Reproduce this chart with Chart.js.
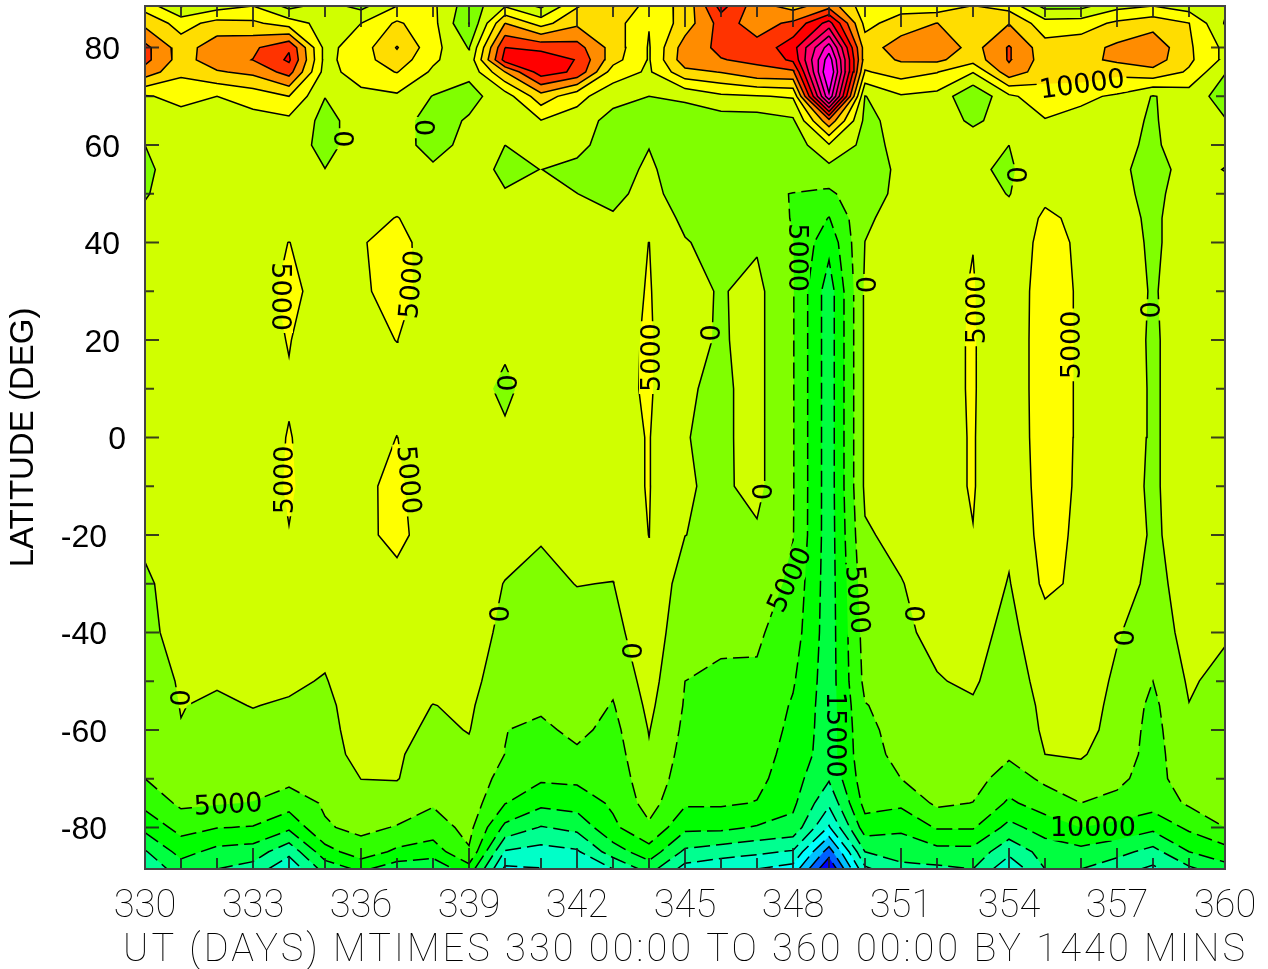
<!DOCTYPE html>
<html>
<head>
<meta charset="utf-8">
<title>Latitude vs UT contour</title>
<script src="https://cdn.jsdelivr.net/npm/chart.js@4/dist/chart.umd.min.js"></script>
<style>
  html, body { margin: 0; background: #fff; }
  canvas { display: block; }
</style>
</head>
<body>
<canvas id="contourChart" width="1268" height="969"></canvas>
<script>
const days = [330,331,332,333,334,335,336,337,338,339,340,341,342,343,344,345,346,347,348,349,350,351,352,353,354,355,356,357,358,359,360];
const lats = [88.54,85,80,77.5,75,70,65,60,55,50,45,40,30,20,10,0,-10,-20,-30,-40,-50,-55,-60,-65,-70,-75,-80,-85,-88.54];

// values in thousands, one row per day, top latitude first
const wind = [
  [8,13.6,21.5,21.5,18,4.5,2,0,-.8,-.3,.8,2,3,3,3,3,2.5,1,-.8,-1.3,-1.5,-1.8,-2,-2.5,-5,-8.5,-13.5,-20.5,-24],
  [-.3,8,12.5,12.8,11,6.5,3,2,2,2,2,2.5,3,3,3,3,3,2.5,2.2,1.8,.3,.1,-.1,-.5,-2,-4,-8.2,-13.2,-17.5],
  [3,11.7,18,18,14.5,5,3,2,2,2,2.5,3,3.2,3.2,3.2,3.2,3.2,3,2.7,2,.3,-.5,-1,-1.5,-2.5,-4.6,-9.8,-16.5,-20],
  [5,11,19,20.1,16.2,7,3.2,2,2,2.5,3,3.5,4,4,4,4,4,3.8,3,2,1,.1,-.8,-1.3,-2.5,-5.2,-10.3,-17.3,-22],
  [-1.5,7.5,24.5,25.8,22,10,3.8,2,2,2.5,3.5,5.05,5.5,5.1,4.8,5.1,5.2,4.95,3,1.8,.7,-.4,-1,-1.8,-3.5,-7.8,-13.9,-23.5,-29],
  [2,3,3.5,3.5,3,.1,-1.5,-1.2,.05,2,2.8,3.5,4.2,3.6,3.3,4,4.1,3.5,2.5,1.5,-.3,-1.2,-1.5,-2,-3.5,-4.4,-5.5,-12,-18],
  [-1.5,5,7.5,8,7.5,3.5,2.2,1.8,2,2.5,3.5,4.8,4.5,4.2,3.5,3.5,4.3,3.8,3.5,3,3,2.6,2,1.5,.05,-1.9,-3.8,-7.2,-14],
  [5,10.8,15.3,13,10.2,4.2,2,2,2,3,5.15,6,6.2,5.05,4,5.05,5.8,6.3,3.5,3,3,2,1.4,.5,.2,-2.2,-5.3,-11,-18],
  [6,6.5,6.8,5.8,4.2,-.2,-2,-1.8,.8,2,3,3.6,3.5,3,2.8,3,2.2,2.5,2.5,2.5,1.5,-.1,-1,-1.8,-2.8,-4.5,-7.3,-12.5,-19],
  [-3,-5.1,-.3,1.5,1,-1.5,.5,1.5,2.2,2.5,3,3,3,3,2,2.5,2.5,3,3,2,1.1,.7,.2,-1,-1.5,-2.2,-3.5,-5.5,-12],
  [4.5,15,25,27,15,2.5,2,0,-1,.3,2,2.5,3,1,-1,.8,2,2.5,-.2,-1,-2,-3.5,-4.9,-5.05,-7,-9.8,-16.2,-25.5,-31],
  [-1,8,23.5,28.5,27.5,13,4.8,2,.05,.1,2,3,3,3,2.5,3,3,.3,-1,-1.2,-1.5,-4.2,-6,-7.5,-9.3,-13.7,-20.3,-26.9,-30.2],
  [9.5,14,22,24.7,24,6.5,3,1.7,-1.5,.05,2,3,3,3,3,3,3,1.5,.1,-1.5,-1.5,-2.5,-3.8,-5.8,-9,-12.8,-18.6,-25.7,-29],
  [15.1,12.5,13,12,7.5,2,-2,-3,-2.5,-1.5,.6,2,3,3.5,3.5,3.5,3.5,2,-.1,-1.8,-4,-5.3,-6.5,-7.5,-8.3,-9.2,-11,-17.5,-25],
  [8,5.2,4.6,4.6,4.3,0,-3,-.2,1,2,3,5.05,5.3,5.5,5.6,5.2,5.2,5.05,4,3.6,2,1.1,.2,-.5,-1.7,-3,-5.8,-12,-18],
  [11,12.3,17.5,18,13.5,1,-3,-4,-3.5,-3,-1,.3,1.2,1.2,.4,.12,.34,.05,-2.25,-4,-5,-5.4,-6,-6.8,-7.6,-9.3,-13.8,-21,-27],
  [27,22,21,19.8,15.2,4,-2.5,-4,-4,-3.5,-2.5,-1.5,-.3,-.4,-.7,-.7,-.7,-1,-2,-4.3,-5.6,-6,-6.5,-7.2,-8,-9.3,-13.8,-22.6,-28.8],
  [17,18,21.5,21,18.5,4.7,-2.5,-4,-4.5,-4.3,-3,-.5,1.2,1.3,1.3,1.3,1.2,-.6,-1.8,-4.3,-5.7,-6.5,-7,-7.7,-8.6,-10.2,-15.4,-24,-30],
  [13,21,28,26,19,5.5,-.8,-3,-3,-5.1,-5.2,-4.9,-4.7,-4.7,-4.7,-4.7,-4.7,-4.8,-6.3,-7.5,-9.5,-10.5,-11.2,-12,-13,-14,-16.5,-25.5,-32],
  [18,32,47.5,53,56,49,18.5,4.5,-1.5,-6,-10.2,-13.5,-17.7,-17.7,-17.7,-17.7,-17.7,-17.7,-17.7,-17.7,-17.7,-17.7,-17.6,-17.5,-19.5,-24,-30.5,-42.5,-50],
  [7,8.5,12.5,12.6,9.5,-.2,-1.3,-1.5,-1.5,-1.2,-.8,.05,.8,.8,.8,.8,.8,-.5,-2,-3,-3.8,-5.2,-6,-6.5,-7,-8.3,-12.2,-20,-26],
  [8,12.3,17.5,15.5,12.2,4.5,1.8,1.2,.6,.7,2,1.5,1.5,1.5,1.5,1.5,1.5,1.2,-.2,-.6,-2.5,-3.3,-3.5,-3.9,-5,-9,-13.9,-18.5,-21],
  [7,15.1,19,16,10.2,3.5,1.5,1.5,1.5,2,2.5,3.5,3.5,3.5,3.5,3.5,3.5,3.5,2,.8,-.2,-1.5,-1.5,-2,-2.5,-4,-9.5,-16.7,-21],
  [10.2,11,13,12,5.2,-4.5,-.5,1.5,.6,2,3,4.9,5.3,5.4,5.4,5.3,5.3,4.9,3.5,1.5,.5,-.4,-1.5,-2,-3,-5.1,-9.5,-16.6,-20],
  [8,14.8,20.5,20.5,18.2,4,1.2,0,-.6,-.2,1.5,1,1,1,1,1,1,1,-.3,-1.2,-2.2,-2.8,-3.2,-4.2,-7.4,-10.8,-16.6,-23.6,-29],
  [-1.5,7,12,12.5,12,7.9,4.7,3,2.9,4,5.8,7,8,8.2,8.2,8,7.5,6.8,6,2.8,1.6,1,.65,0,-4,-7.7,-12.6,-18,-20],
  [-1.5,7.5,13,13.5,13,6,3.5,3.8,3.8,3.9,4,4.1,4.15,4.15,4.15,4.15,4.15,4,4,4,3,2.5,2,.5,-2,-5,-10,-16.5,-20],
  [3.5,11,16,16,11.5,4.3,1.2,.9,.6,.8,1,1.2,1.2,1.2,1.5,1.3,.9,1.5,1.8,.4,-.9,-1.5,-2,-2.5,-4.2,-5.9,-11.5,-18.4,-23],
  [5,13,18.5,17.5,13.5,-.3,-.4,-.6,-1,-.8,-.5,-.4,-.2,-.3,-.3,-.3,-.3,-.3,-1,-2.5,-5,-6.1,-6.5,-6.7,-6.5,-7.8,-13.7,-21.7,-26],
  [2.5,10.1,10.8,11,9.3,2.5,2.2,2,1,1.5,1.5,1.2,1.2,1.2,1.2,1.2,1.2,.9,1.4,1.6,.6,-.1,-1,-1.8,-2.8,-4.3,-9,-15,-21],
  [1,-.4,3.8,3.8,.2,-2,.3,1,-.1,1,1.5,1.5,1.5,1.5,1.5,1.5,1.5,1.5,1.2,.6,-1.5,-2,-2.4,-2.8,-3.2,-4,-5,-12,-17]
];

const levels = [-45,-40,-35,-30,-25,-20,-15,-10,-5,0,5,10,15,20,25,30,35,40,45,50];
// bandColors[0] is below the first level, bandColors[i+1] is above levels[i]
const bandColors = ['#0000ff','#0060ff','#00c0ff','#00ffff','#00ffc8','#00ff90','#00ff40','#00ff00','#30ff00','#80ff00',
  '#d0ff00','#ffff00','#ffdd00','#ff8c00','#ff3300','#ff0000','#ff0040','#ff0070','#ff00a0','#ff00d0','#ff00ff'];

const dayTicks = [330,333,336,339,342,345,348,351,354,357,360];
const latTicks = [-80,-60,-40,-20,0,20,40,60,80];

// contour labels: [day, lat, text, rotation in degrees]
const contourLabels = [
  [356.03,72.4,'10000',-8],[335.47,61.3,'0',90],[337.72,63.6,'0',90],[333.75,28.9,'5000',90],
  [337.42,31.4,'5000',-85],[333.89,-8.7,'5000',-90],[337.31,-8.7,'5000',85],[344.08,16.4,'5000',-90],
  [345.64,21.5,'0',90],[340,11.2,'0',90],[347.08,-11.1,'0',90],[353.11,26.2,'5000',-90],
  [355.75,19,'5000',-90],[349.97,31.4,'0',90],[357.86,26.2,'0',90],[354.17,53.9,'0',90],
  [330.92,-53.4,'0',90],[339.78,-36.2,'0',90],[343.47,-43.8,'0',90],[351.33,-36.2,'0',90],
  [357.14,-41.1,'0',90],[348.11,36.9,'5000',90],[347.92,-29.2,'5000',-65],[349.78,-33.3,'5000',85],
  [349.17,-61,'15000',90],[332.31,-75.4,'5000',-3],[356.33,-80.1,'10000',0]
];

function edgePoint(level, a, b) {
  const va = wind[a[0]][a[1]], vb = wind[b[0]][b[1]];
  const t = (level - va) / (vb - va);
  return {
    x: days[a[0]] + t * (days[b[0]] - days[a[0]]),
    y: lats[a[1]] + t * (lats[b[1]] - lats[a[1]])
  };
}

// walk every grid cell and hand back its corners and which are above the level
function forEachCell(level, cb) {
  for (let i = 0; i < days.length - 1; i++) {
    for (let j = 0; j < lats.length - 1; j++) {
      const c = [[i, j], [i + 1, j], [i + 1, j + 1], [i, j + 1]];
      const vals = c.map(p => wind[p[0]][p[1]]);
      const up = vals.map(v => v >= level);
      const n = up.filter(Boolean).length;
      if (n === 0) continue;
      const centerUp = vals.reduce((s, v) => s + v, 0) / 4 >= level;
      cb(c, up, n, centerUp);
    }
  }
}

// contour line of one level as chained {x,y} points, NaN point between chains
function contourLine(level) {
  const nodes = new Map();
  const node = (a, b) => {
    const k = a[0] + ',' + a[1] + '|' + b[0] + ',' + b[1];
    const r = b[0] + ',' + b[1] + '|' + a[0] + ',' + a[1];
    const key = nodes.has(r) ? r : k;
    if (!nodes.has(key)) nodes.set(key, { pt: edgePoint(level, a, b), next: [], used: false });
    return nodes.get(key);
  };
  forEachCell(level, (c, up, n, centerUp) => {
    if (n === 4) return;
    const cross = [];
    for (let k = 0; k < 4; k++) {
      if (up[k] !== up[(k + 1) % 4]) cross.push(node(c[k], c[(k + 1) % 4]));
    }
    const link = (a, b) => { a.next.push(b); b.next.push(a); };
    if (cross.length === 2) {
      link(cross[0], cross[1]);
    } else if (up[0] === centerUp) {
      link(cross[0], cross[1]); link(cross[2], cross[3]);
    } else {
      link(cross[3], cross[0]); link(cross[1], cross[2]);
    }
  });
  const out = [];
  const walk = start => {
    let cur = start, last = null;
    while (cur) {
      cur.used = true;
      out.push(cur.pt);
      last = cur;
      cur = cur.next.find(m => !m.used);
    }
    if (last !== start && last.next.includes(start) && out.length > 2) out.push(start.pt);
    out.push({ x: NaN, y: NaN });
  };
  nodes.forEach(m => { if (m.next.length === 1 && !m.used) walk(m); });
  nodes.forEach(m => { if (!m.used) walk(m); });
  return out;
}

// colour bands go on their own canvas, so label gaps can copy them back
const bandLayer = document.createElement('canvas');
let bandsReady = false;

function paintBands(chart) {
  const { chartArea: a, scales: { x, y } } = chart;
  bandLayer.width = chart.width;
  bandLayer.height = chart.height;
  const ctx = bandLayer.getContext('2d');
  ctx.fillStyle = bandColors[0];
  ctx.fillRect(a.left, a.top, a.right - a.left, a.bottom - a.top);
  levels.forEach((level, idx) => {
    ctx.beginPath();
    const poly = pts => pts.forEach((p, i) => {
      const px = x.getPixelForValue(p.x), py = y.getPixelForValue(p.y);
      if (i) ctx.lineTo(px, py); else ctx.moveTo(px, py);
    });
    const corner = p => ({ x: days[p[0]], y: lats[p[1]] });
    forEachCell(level, (c, up, n, centerUp) => {
      const saddle = up[0] === up[2] && up[1] === up[3] && up[0] !== up[1];
      if (saddle && !centerUp) {
        for (let k = 0; k < 4; k++) {
          if (!up[k]) continue;
          poly([edgePoint(level, c[(k + 3) % 4], c[k]), corner(c[k]), edgePoint(level, c[k], c[(k + 1) % 4])]);
          ctx.closePath();
        }
        return;
      }
      const pts = [];
      for (let k = 0; k < 4; k++) {
        if (up[k]) pts.push(corner(c[k]));
        if (up[k] !== up[(k + 1) % 4]) pts.push(edgePoint(level, c[k], c[(k + 1) % 4]));
      }
      poly(pts);
      ctx.closePath();
    });
    ctx.fillStyle = bandColors[idx + 1];
    ctx.fill();
  });
  bandsReady = true;
}

const contourPlugin = {
  id: 'contourPlugin',
  beforeDraw(chart) {
    // y labels of the original are not right aligned, shift them by length
    const yScale = chart.scales.y;
    yScale.getLabelItems(chart.chartArea).forEach(item => {
      if (item.shifted) return;
      item.shifted = true;
      item.options.translation[0] -= { 1: 0, 2: 6, 3: 19 }[String(item.label).length];
      item.options.translation[1] += 3;
    });
  },
  beforeDatasetsDraw(chart) {
    if (!bandsReady) paintBands(chart);
    chart.ctx.drawImage(bandLayer, 0, 0);
  },
  afterDatasetsDraw(chart) {
    const { ctx, chartArea: a, scales: { x, y } } = chart;
    // contour labels sit in a gap cut out of their line
    contourLabels.forEach(([day, lat, text, rot]) => {
      const px = x.getPixelForValue(day), py = y.getPixelForValue(lat), rad = rot * Math.PI / 180;
      ctx.save();
      ctx.font = '27px "DejaVu Sans"';
      ctx.textAlign = 'center';
      ctx.textBaseline = 'middle';
      const w = ctx.measureText(text).width + 4;
      ctx.translate(px, py);
      ctx.rotate(rad);
      ctx.beginPath();
      ctx.rect(-w / 2, -13, w, 26);
      ctx.clip();
      ctx.rotate(-rad);
      ctx.translate(-px, -py);
      ctx.drawImage(bandLayer, 0, 0);
      ctx.translate(px, py);
      ctx.rotate(rad);
      ctx.fillStyle = '#000';
      ctx.fillText(text, 0, 1);
      ctx.restore();
    });
    // inward ticks on all four sides and the frame
    ctx.save();
    ctx.strokeStyle = 'rgba(30,30,30,0.85)';
    ctx.lineWidth = 2;
    ctx.beginPath();
    days.forEach(d => {
      const px = x.getPixelForValue(d), len = dayTicks.includes(d) ? 21 : 11;
      ctx.moveTo(px, a.top); ctx.lineTo(px, a.top + len);
      ctx.moveTo(px, a.bottom); ctx.lineTo(px, a.bottom - len);
    });
    for (let lat = -80; lat <= 80; lat += 10) {
      const py = y.getPixelForValue(lat), len = latTicks.includes(lat) ? 14 : 9;
      ctx.moveTo(a.left, py); ctx.lineTo(a.left + len, py);
      ctx.moveTo(a.right, py); ctx.lineTo(a.right - len, py);
    }
    ctx.stroke();
    ctx.strokeStyle = '#444';
    ctx.strokeRect(a.left, a.top, a.right - a.left, a.bottom - a.top);
    // x axis caption, stretched to the width of the original
    const caption = 'UT (DAYS) MTIMES 330 00:00 TO 360 00:00 BY 1440 MINS';
    ctx.font = '100 38px Roboto';
    ctx.fillStyle = '#000';
    ctx.textAlign = 'left';
    ctx.textBaseline = 'middle';
    ctx.letterSpacing = '0px';
    const plain = ctx.measureText(caption).width;
    ctx.letterSpacing = ((1122 - plain) / (caption.length - 1)) + 'px';
    ctx.fillText(caption, 123, 951);
    ctx.restore();
  }
};

const contourSets = levels.map(level => ({
  label: String(level * 1000),
  data: contourLine(level),
  showLine: true,
  pointRadius: 0,
  borderColor: '#000',
  borderWidth: 1.5,
  borderDash: level < 0 ? [16, 6] : [],
  tension: 0
}));

new Chart(document.getElementById('contourChart').getContext('2d'), {
  type: 'scatter',
  data: { datasets: contourSets },
  plugins: [contourPlugin],
  options: {
    responsive: false,
    animation: false,
    events: [],
    layout: { padding: { top: 6, right: 43, left: 0, bottom: 0 } },
    plugins: { legend: { display: false }, tooltip: { enabled: false } },
    scales: {
      x: {
        type: 'linear',
        min: 330,
        max: 360,
        grid: { display: false },
        border: { display: false },
        afterBuildTicks: s => { s.ticks = dayTicks.map(v => ({ value: v })); },
        afterFit: s => { s.height = 100; s.paddingLeft = 0; s.paddingRight = 0; },
        ticks: {
          autoSkip: false,
          maxRotation: 0,
          padding: 8,
          color: '#000',
          font: { family: 'Roboto', size: 38, weight: 100 }
        }
      },
      y: {
        type: 'linear',
        min: -88.54,
        max: 88.54,
        grid: { display: false },
        border: { display: false },
        afterBuildTicks: s => { s.ticks = latTicks.map(v => ({ value: v })); },
        afterFit: s => { s.width = 145; s.paddingTop = 0; s.paddingBottom = 0; },
        title: {
          display: true,
          text: 'LATITUDE (DEG)',
          color: '#000',
          padding: { top: 4, bottom: 0 },
          font: { family: '"Liberation Sans"', size: 33 }
        },
        ticks: {
          autoSkip: false,
          padding: 11,
          color: '#000',
          font: { family: '"Liberation Sans"', size: 32 }
        }
      }
    }
  }
});
</script>
</body>
</html>
